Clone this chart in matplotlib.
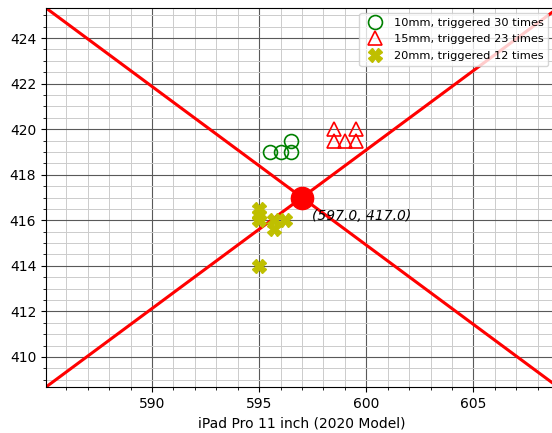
import matplotlib.pyplot as plt
from matplotlib.ticker import MultipleLocator

# trigger positions
x10 = [595.5, 596.0, 596.5, 596.5]
y10 = [419.0, 419.0, 419.0, 419.5]
x15 = [598.5, 599.5, 598.5, 599.0, 599.5]
y15 = [420.0, 420.0, 419.5, 419.5, 419.5]
x20 = [595.0, 595.0, 595.0, 595.7, 595.7, 596.2, 595.0]
y20 = [416.5, 416.25, 416.0, 416.0, 415.6, 416.0, 414.0]

# target point and the two diagonal lines through it
cx, cy = 597.0, 417.0
line1_x = [585.05, 608.95]
line1_y = [425.32, 408.68]
line2_x = [585.05, 608.95]
line2_y = [408.68, 425.32]

fig = plt.figure(figsize=(5.52, 4.33), dpi=100)
ax = fig.add_axes([46/552, 46/433, 512/552, 379/433])

ax.plot(line1_x, line1_y, color='red', lw=2.2)
ax.plot(line2_x, line2_y, color='red', lw=2.2)
ax.plot([cx], [cy], 'o', color='red', ms=16)
ax.text(597.45, 416.0, f"({cx}, {cy})", fontsize=10, style='italic')

ax.plot(x10, y10, 'o', mfc='none', mec='g', ms=10, mew=1.2, ls='none',
        label='10mm, triggered 30 times')
ax.plot(x15, y15, '^', mfc='none', mec='r', ms=10, mew=1.2, ls='none',
        label='15mm, triggered 23 times')
ax.plot(x20, y20, 'X', color='y', ms=10, ls='none',
        label='20mm, triggered 12 times')

ax.set_xlim(585.05, 608.95)
ax.set_ylim(408.68, 425.32)
ax.xaxis.set_major_locator(MultipleLocator(5))
ax.xaxis.set_minor_locator(MultipleLocator(1))
ax.yaxis.set_major_locator(MultipleLocator(2))
ax.yaxis.set_minor_locator(MultipleLocator(0.5))
ax.grid(which='major', color='0.35', lw=0.8)
ax.grid(which='minor', color='0.8', lw=0.7)
ax.set_axisbelow(True)
ax.set_xlabel('iPad Pro 11 inch (2020 Model)', fontsize=10)

ax.legend(loc='upper right', fontsize=8.2, bbox_to_anchor=(548/552, 1 - 13/433),
          bbox_transform=fig.transFigure, borderaxespad=0, handletextpad=0.6,
          labelspacing=0.6)

fig.savefig('out.png', dpi=100)
